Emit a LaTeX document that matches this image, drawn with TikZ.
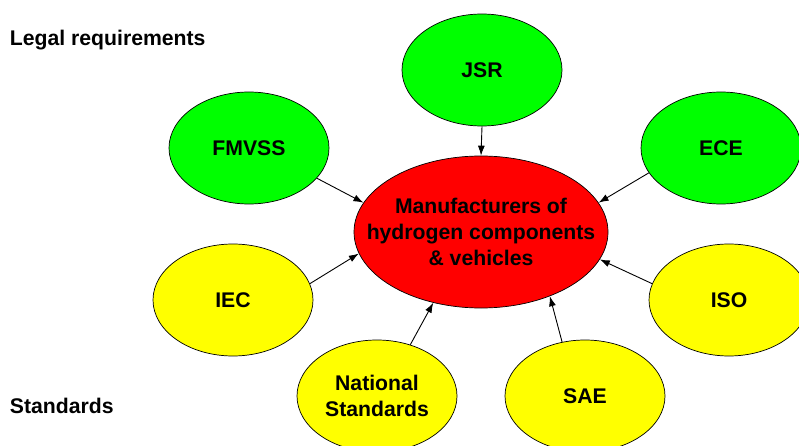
\documentclass[tikz,border=0pt]{standalone}
\usepackage{fontspec}
\setmainfont{Liberation Sans}
\usetikzlibrary{shapes.geometric,arrows.meta}

\definecolor{lawgreen}{RGB}{0,255,0}
\definecolor{normyellow}{RGB}{255,255,0}
\definecolor{makerred}{RGB}{255,0,0}

\begin{document}
\begin{tikzpicture}[x=1pt,y=-1pt,>={Latex[length=10pt,width=7pt]},
line width=0.9pt,
every node/.style={font=\bfseries\fontsize{21.2}{26}\selectfont,align=center},
body/.style={ellipse,draw,line width=0.7pt,minimum width=160pt,
    minimum height=112pt,inner sep=0pt},
law/.style={body,fill=lawgreen},
norm/.style={body,fill=normyellow},
maker/.style={body,fill=makerred,inner xsep=-30pt,minimum width=254pt,
    minimum height=152pt},
heading/.style={anchor=base west,inner sep=0pt}
    ]
\useasboundingbox (0,0) rectangle (799,446);
\clip (0,0) rectangle (799,446);

\node[heading] (legal) at (9.5,45.5) {Legal requirements};
\node[heading] (std) at (9.5,413) {Standards};

\node[maker] (mfr) at (481,232) {Manufacturers of\\hydrogen components\\\& vehicles};
% legal side
\node[law] (jsr) at (482,70) {JSR};
\node[law] (fmvss) at (249,148) {FMVSS};
\node[law] (ece) at (721,148) {ECE};
% standards side
\node[norm] (iec) at (233,300) {IEC};
\node[norm] (iso) at (729,300) {ISO};
\node[norm] (natl) at (377,396) {National\\Standards};
\node[norm] (sae) at (585,396) {SAE};

\path[->]
     (jsr.south) edge (mfr.north)
     (fmvss.-24) edge (mfr.166)
     (ece.199) edge (mfr.14)
     (iec.12) edge (mfr.190)
     (iso.168) edge (mfr.-13)
     (natl.57) edge (mfr.236)
     (sae.113) edge (mfr.-43)
    ;
\end{tikzpicture}
\end{document}
